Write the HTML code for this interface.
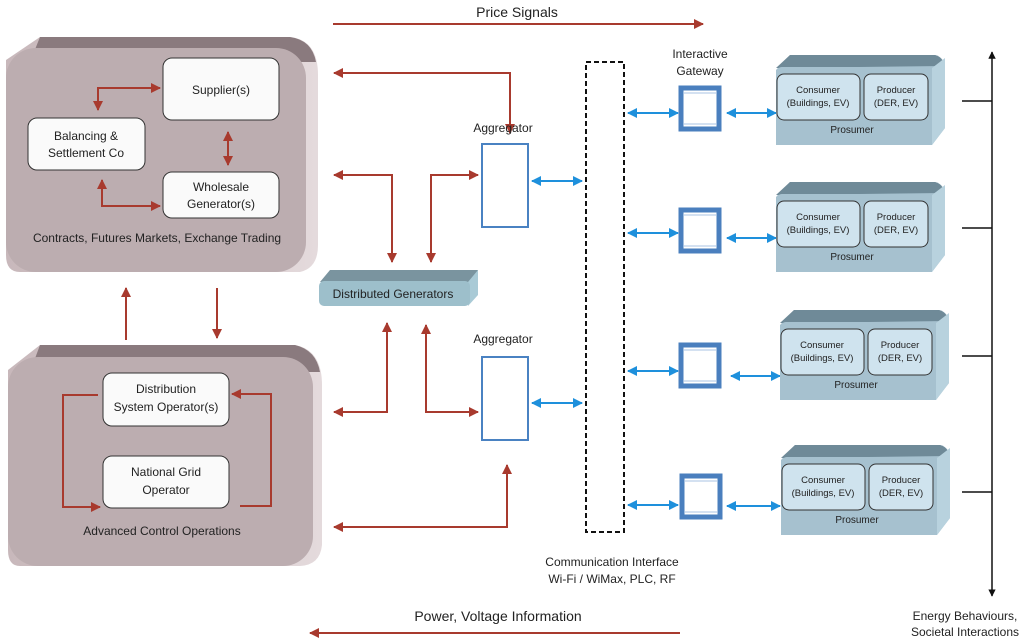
<!DOCTYPE html>
<html><head><meta charset="utf-8"><style>
body{margin:0;background:#fff;}
svg{display:block;font-family:"Liberation Sans",sans-serif;}
</style></head><body>
<svg width="1024" height="644" viewBox="0 0 1024 644" xmlns="http://www.w3.org/2000/svg">
<defs>
<marker id="r" viewBox="0 0 10 10" refX="9" refY="5" markerWidth="5" markerHeight="5" orient="auto-start-reverse"><path d="M0,0 L10,5 L0,10 z" fill="#a83a2e"/></marker>
<marker id="b" viewBox="0 0 10 10" refX="9" refY="5" markerWidth="5" markerHeight="5" orient="auto-start-reverse"><path d="M0,0 L10,5 L0,10 z" fill="#1e90dc"/></marker>
<marker id="k" viewBox="0 0 10 10" refX="9" refY="5" markerWidth="5" markerHeight="5" orient="auto-start-reverse"><path d="M0,0 L10,5 L0,10 z" fill="#111"/></marker>
<linearGradient id="side" x1="0" x2="1"><stop offset="0" stop-color="#c8b8bb"/><stop offset="1" stop-color="#e4dadc"/></linearGradient>
</defs>

<!-- Top left 3D box -->
<path d="M40,37 L290,37 Q318,40 318,75 L318,245 Q318,268 300,272 L20,272 Q6,272 6,255 L6,60 Z" fill="url(#side)"/>
<path d="M40,37 L290,37 Q312,40 316,62 L30,62 Z" fill="#8a7a7e"/>
<rect x="6" y="48" width="300" height="224" rx="30" fill="#bcadb0"/>
<rect x="163" y="58" width="116" height="62" rx="9" fill="#fafafa" stroke="#333" stroke-width="1"/>
<text x="221" y="94" font-size="12" text-anchor="middle" fill="#222">Supplier(s)</text>
<rect x="28" y="118" width="117" height="52" rx="9" fill="#fafafa" stroke="#333"/>
<text x="86" y="140" font-size="12" text-anchor="middle" fill="#222">Balancing &amp;</text>
<text x="86" y="157" font-size="12" text-anchor="middle" fill="#222">Settlement Co</text>
<rect x="163" y="172" width="116" height="46" rx="9" fill="#fafafa" stroke="#333"/>
<text x="221" y="191" font-size="12" text-anchor="middle" fill="#222">Wholesale</text>
<text x="221" y="208" font-size="12" text-anchor="middle" fill="#222">Generator(s)</text>
<text x="157" y="242" font-size="12" text-anchor="middle" fill="#222">Contracts, Futures Markets, Exchange Trading</text>
<g stroke="#a83a2e" stroke-width="2" fill="none">
<path d="M98,110 L98,88 L160,88" marker-start="url(#r)" marker-end="url(#r)"/>
<path d="M228,132 L228,165" marker-start="url(#r)" marker-end="url(#r)"/>
<path d="M102,180 L102,206 L160,206" marker-start="url(#r)" marker-end="url(#r)"/>
</g>

<!-- Bottom left 3D box -->
<path d="M40,345 L295,345 Q322,350 322,385 L322,545 Q320,565 300,566 L20,566 Q8,566 8,550 L8,370 Z" fill="url(#side)"/>
<path d="M40,345 L295,345 Q316,350 320,372 L30,372 Z" fill="#8a7a7e"/>
<rect x="8" y="357" width="305" height="209" rx="30" fill="#bcadb0"/>
<rect x="103" y="373" width="126" height="53" rx="9" fill="#fafafa" stroke="#333"/>
<text x="166" y="393" font-size="12" text-anchor="middle" fill="#222">Distribution</text>
<text x="166" y="411" font-size="12" text-anchor="middle" fill="#222">System Operator(s)</text>
<rect x="103" y="456" width="126" height="52" rx="9" fill="#fafafa" stroke="#333"/>
<text x="166" y="476" font-size="12" text-anchor="middle" fill="#222">National Grid</text>
<text x="166" y="494" font-size="12" text-anchor="middle" fill="#222">Operator</text>
<text x="162" y="535" font-size="12" text-anchor="middle" fill="#222">Advanced Control Operations</text>
<g stroke="#a83a2e" stroke-width="2" fill="none">
<path d="M98,395 L63,395 L63,507 L100,507" marker-end="url(#r)"/>
<path d="M240,506 L271,506 L271,394 L232,394" marker-end="url(#r)"/>
<path d="M126,340 L126,288" marker-end="url(#r)"/>
<path d="M217,288 L217,338" marker-end="url(#r)"/>
</g>

<!-- Price / Power -->
<g stroke="#a83a2e" stroke-width="2" fill="none">
<path d="M333,24 L703,24" marker-end="url(#r)"/>
<path d="M680,633 L310,633" marker-end="url(#r)"/>
<path d="M510,133 L510,73 L334,73" marker-end="url(#r)" marker-start="url(#r)"/>
<path d="M392,262 L392,175 L334,175" marker-end="url(#r)" marker-start="url(#r)"/>
<path d="M431,262 L431,175 L478,175" marker-end="url(#r)" marker-start="url(#r)"/>
<path d="M387,323 L387,412 L334,412" marker-end="url(#r)" marker-start="url(#r)"/>
<path d="M426,325 L426,412 L478,412" marker-end="url(#r)" marker-start="url(#r)"/>
<path d="M507,465 L507,527 L334,527" marker-end="url(#r)" marker-start="url(#r)"/>
</g>
<text x="517" y="17" font-size="14" text-anchor="middle" fill="#222">Price Signals</text>
<text x="498" y="621" font-size="14" text-anchor="middle" fill="#222">Power, Voltage Information</text>

<!-- Distributed Generators -->
<path d="M330,270 L478,270 L470,282 L320,282 Z" fill="#7a949f"/>
<path d="M478,270 L478,295 L468,306 L468,282 Z" fill="#a9cad6"/>
<rect x="319" y="281" width="151" height="25" rx="5" fill="#9dbfcb"/>
<text x="393" y="298" font-size="12" text-anchor="middle" fill="#222">Distributed Generators</text>

<!-- Aggregators -->
<text x="503" y="132" font-size="12" text-anchor="middle" fill="#222">Aggregator</text>
<rect x="482" y="144" width="46" height="83" fill="#fff" stroke="#4a82c2" stroke-width="2"/>
<text x="503" y="343" font-size="12" text-anchor="middle" fill="#222">Aggregator</text>
<rect x="482" y="357" width="46" height="83" fill="#fff" stroke="#4a82c2" stroke-width="2"/>

<!-- Comm interface -->
<rect x="586" y="62" width="38" height="470" fill="none" stroke="#111" stroke-width="2" stroke-dasharray="5,3"/>
<text x="612" y="566" font-size="12" text-anchor="middle" fill="#222">Communication Interface</text>
<text x="612" y="583" font-size="12" text-anchor="middle" fill="#222">Wi-Fi / WiMax, PLC, RF</text>

<g stroke="#1e90dc" stroke-width="2" fill="none">
<path d="M532,181 L582,181" marker-start="url(#b)" marker-end="url(#b)"/>
<path d="M532,403 L582,403" marker-start="url(#b)" marker-end="url(#b)"/>
<path d="M628,113 L678,113" marker-start="url(#b)" marker-end="url(#b)"/>
<path d="M628,233 L678,233" marker-start="url(#b)" marker-end="url(#b)"/>
<path d="M628,371 L678,371" marker-start="url(#b)" marker-end="url(#b)"/>
<path d="M628,505 L678,505" marker-start="url(#b)" marker-end="url(#b)"/>
<path d="M727,113 L776,113" marker-start="url(#b)" marker-end="url(#b)"/>
<path d="M727,238 L776,238" marker-start="url(#b)" marker-end="url(#b)"/>
<path d="M731,376 L780,376" marker-start="url(#b)" marker-end="url(#b)"/>
<path d="M727,506 L780,506" marker-start="url(#b)" marker-end="url(#b)"/>
</g>

<text x="700" y="58" font-size="12" text-anchor="middle" fill="#222">Interactive</text>
<text x="700" y="75" font-size="12" text-anchor="middle" fill="#222">Gateway</text>

<!-- Gateways -->
<g fill="#fff" stroke="#4a7fbe" stroke-width="5">
<rect x="681" y="88" width="38" height="41"/>
<rect x="681" y="210" width="38" height="41"/>
<rect x="681" y="345" width="38" height="41"/>
<rect x="682" y="476" width="38" height="41"/>
</g>
<g stroke="#a9c3e3" stroke-width="1">
<path d="M684,93 L716,93 M684,124 L716,124"/>
<path d="M684,215 L716,215 M684,246 L716,246"/>
<path d="M684,350 L716,350 M684,381 L716,381"/>
<path d="M685,481 L717,481 M685,512 L717,512"/>
</g>

<!-- Prosumers -->
<g id="p1">
<path d="M790,55 L935,55 Q945,57 945,70 L945,128 L932,145 L776,145 L776,70 Z" fill="#a6c1cf"/>
<path d="M790,55 L935,55 Q943,57 944,66 L776,68 Z" fill="#6f8a98"/>
<path d="M932,68 L945,58 L945,128 L932,145 Z" fill="#b8d2de"/>
<rect x="776" y="67" width="156" height="78" rx="6" fill="#a6c1cf"/>
<rect x="777" y="74" width="83" height="46" rx="7" fill="#cfe3ee" stroke="#333"/>
<rect x="864" y="74" width="64" height="46" rx="7" fill="#cfe3ee" stroke="#333"/>
<text x="818" y="93" font-size="9.5" text-anchor="middle" fill="#222">Consumer</text>
<text x="818" y="106" font-size="9.5" text-anchor="middle" fill="#222">(Buildings, EV)</text>
<text x="896" y="93" font-size="9.5" text-anchor="middle" fill="#222">Producer</text>
<text x="896" y="106" font-size="9.5" text-anchor="middle" fill="#222">(DER, EV)</text>
<text x="852" y="133" font-size="10" text-anchor="middle" fill="#222">Prosumer</text>
</g>
<use href="#p1" x="0" y="127"/>
<use href="#p1" x="4" y="255"/>
<use href="#p1" x="5" y="390"/>

<!-- Right axis -->
<g stroke="#111" stroke-width="1.5" fill="none">
<path d="M992,596 L992,52" marker-start="url(#k)" marker-end="url(#k)"/>
<path d="M962,101 L992,101 M962,228 L992,228 M962,356 L992,356 M962,492 L992,492"/>
</g>
<text x="965" y="620" font-size="12" text-anchor="middle" fill="#222">Energy Behaviours,</text>
<text x="965" y="636" font-size="12" text-anchor="middle" fill="#222">Societal Interactions</text>
</svg>
</body></html>
